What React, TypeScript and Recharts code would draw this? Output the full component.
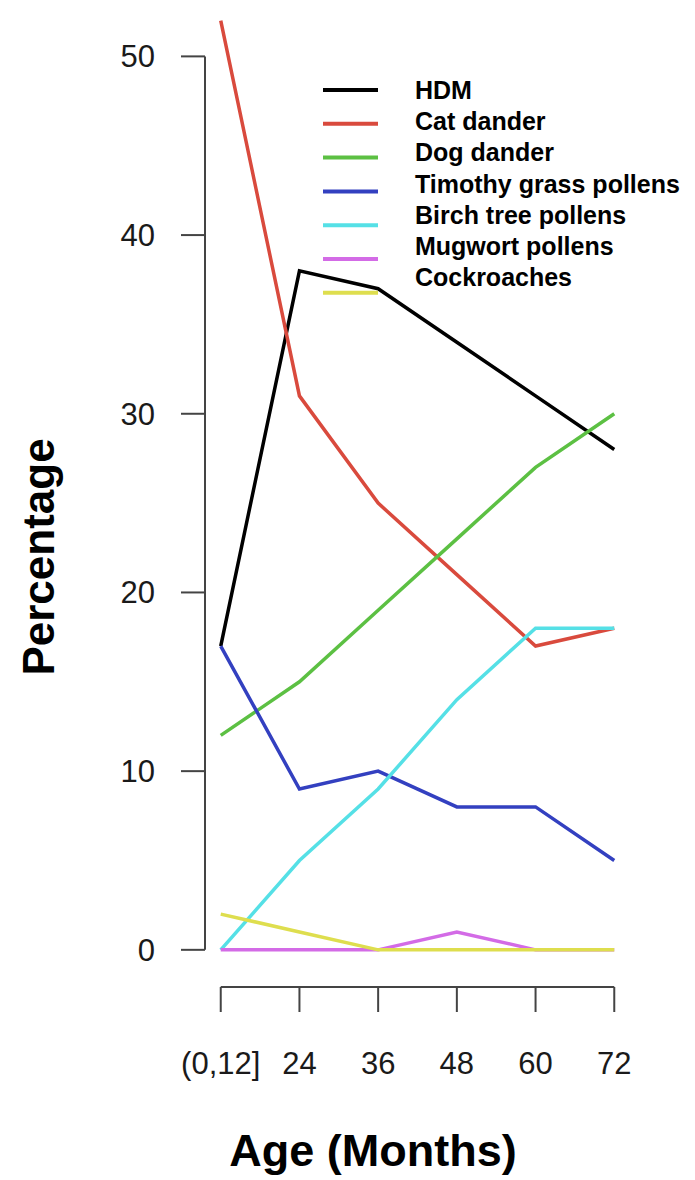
import { LineChart, Line, XAxis, YAxis, Legend, ReferenceLine } from "recharts";

// age groups on the x axis
const ageLabels = ["(0,12]", "24", "36", "48", "60", "72"];

// percentage sensitised per allergen
const hdm = [17, 38, 37, 34, 31, 28];
const catDander = [52, 31, 25, 21, 17, 18];
const dogDander = [12, 15, 19, 23, 27, 30];
const timothyGrass = [17, 9, 10, 8, 8, 5];
const birchTree = [0, 5, 9, 14, 18, 18];
const mugwort = [0, 0, 0, 1, 0, 0];
const cockroaches = [2, 1, 0, 0, 0, 0];

const yTicks = [0, 10, 20, 30, 40, 50];

const series = [
  { key: "hdm", name: "HDM", values: hdm, color: "#000000" },
  { key: "cat", name: "Cat dander", values: catDander, color: "#d94a3d" },
  { key: "dog", name: "Dog dander", values: dogDander, color: "#5cc043" },
  { key: "timothy", name: "Timothy grass pollens", values: timothyGrass, color: "#3340c0" },
  { key: "birch", name: "Birch tree pollens", values: birchTree, color: "#55e0e6" },
  { key: "mugwort", name: "Mugwort pollens", values: mugwort, color: "#d36be6" },
  { key: "cockroach", name: "Cockroaches", values: cockroaches, color: "#dede4e" },
];

const data = ageLabels.map((label, i) => {
  const row: any = { idx: i, label };
  series.forEach((s) => {
    row[s.key] = s.values[i];
  });
  return row;
});

const FONT = "'Liberation Sans', Arial, Helvetica, sans-serif";
const AXIS = "#444";
const Y_MIN = -2.08;

// R style legend, kept in series order; text rows and key lines are spaced a little differently
function renderLegend() {
  return (
    <svg width={380} height={240} style={{ display: "block" }}>
      {series.map((s, i) => (
        <g key={s.key}>
          <line x1={8} x2={63} y1={20 + i * 33.8} y2={20 + i * 33.8} stroke={s.color} strokeWidth={4} />
          <text
            x={100}
            y={20 + i * 31.2}
            dy="0.36em"
            fontFamily={FONT}
            fontWeight="bold"
            fontSize={25}
            fill="#000"
          >
            {s.name}
          </text>
        </g>
      ))}
    </svg>
  );
}

export default function App() {
  return (
    <div style={{ position: "absolute", left: 0, top: 0, background: "#fff" }}>
      <LineChart
        width={695}
        height={1180}
        data={data}
        margin={{ top: 11, right: 65, bottom: 0, left: 0 }}
      >
        <XAxis
          dataKey="idx"
          type="number"
          domain={[-0.2, 5.2]}
          ticks={[0, 1, 2, 3, 4, 5]}
          tickFormatter={(v: number) => ageLabels[v]}
          axisLine={false}
          tickLine={{ stroke: AXIS, strokeWidth: 2 }}
          tickSize={25}
          tickMargin={40}
          height={193}
          interval={0}
          tick={{ fontFamily: FONT, fontSize: 31, fill: "#1a1a1a" }}
          label={{
            content: () => (
              <text
                x={373}
                y={1166}
                textAnchor="middle"
                fontFamily={FONT}
                fontWeight="bold"
                fontSize={45}
                fill="#000"
              >
                Age (Months)
              </text>
            ),
          }}
        />
        <YAxis
          type="number"
          domain={[Y_MIN, 52.54]}
          ticks={yTicks}
          allowDataOverflow
          width={205}
          axisLine={false}
          tickLine={{ stroke: AXIS, strokeWidth: 2 }}
          tickSize={24}
          tickMargin={26}
          tick={{ fontFamily: FONT, fontSize: 31, fill: "#1a1a1a" }}
          label={{
            content: () => (
              <text
                x={54}
                y={557}
                transform="rotate(-90, 54, 557)"
                textAnchor="middle"
                fontFamily={FONT}
                fontWeight="bold"
                fontSize={44}
                fill="#000"
              >
                Percentage
              </text>
            ),
          }}
        />
        {/* detached R axes: y from 0 to 50, x from first to last tick */}
        <ReferenceLine
          segment={[
            { x: -0.2, y: 0 },
            { x: -0.2, y: 50 },
          ]}
          stroke={AXIS}
          strokeWidth={2}
          ifOverflow="visible"
        />
        <ReferenceLine
          segment={[
            { x: 0, y: Y_MIN },
            { x: 5, y: Y_MIN },
          ]}
          stroke={AXIS}
          strokeWidth={2}
          ifOverflow="visible"
        />
        {series.map((s) => (
          <Line
            key={s.key}
            dataKey={s.key}
            name={s.name}
            type="linear"
            stroke={s.color}
            strokeWidth={3.5}
            dot={false}
            activeDot={false}
            isAnimationActive={false}
          />
        ))}
        <Legend
          layout="vertical"
          align="center"
          verticalAlign="middle"
          content={renderLegend}
          wrapperStyle={{ left: 315, top: 70, width: 380, height: 240 }}
        />
      </LineChart>
    </div>
  );
}
